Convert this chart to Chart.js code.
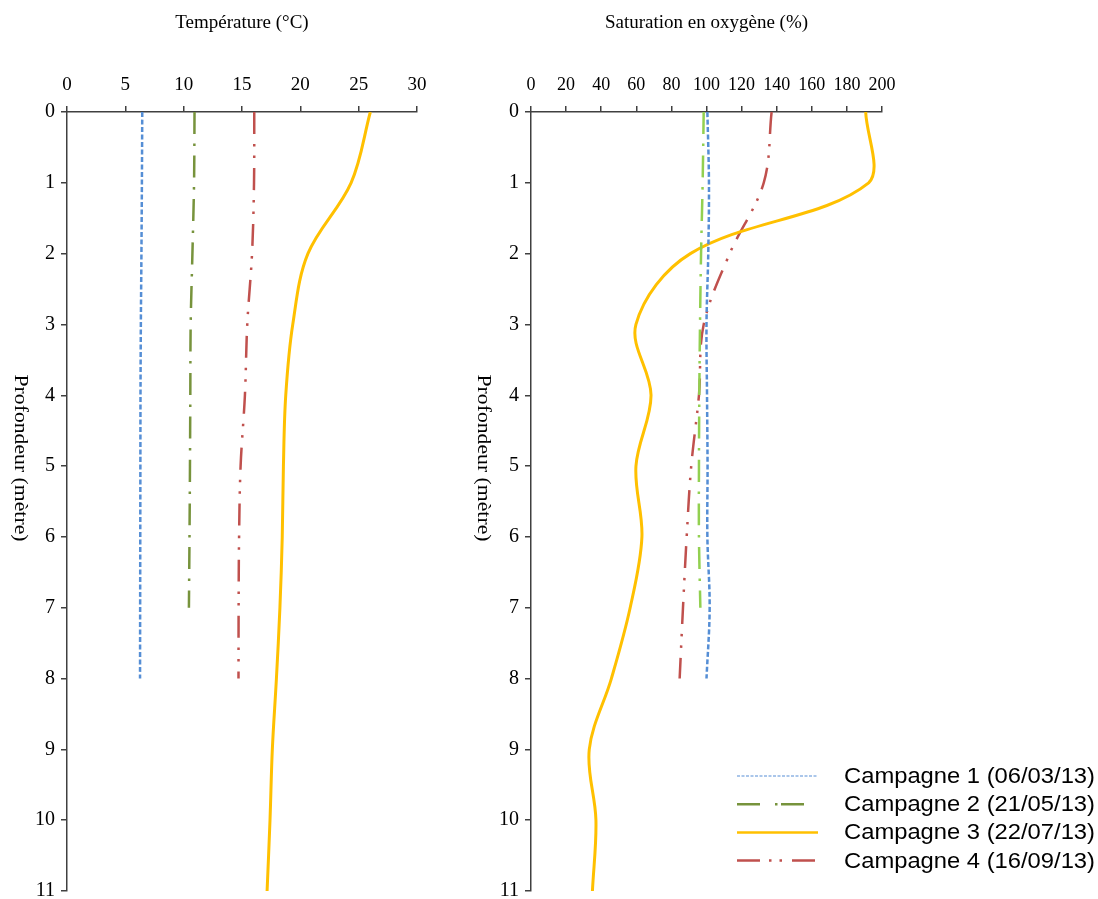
<!DOCTYPE html>
<html>
<head>
<meta charset="utf-8">
<script src="https://cdn.jsdelivr.net/npm/chart.js@4.4.1/dist/chart.umd.min.js"></script>
<style>
  html, body { margin: 0; padding: 0; background: #fff; overflow: hidden; }
  #wrap { position: relative; width: 1098px; height: 899px; overflow: hidden; }
  #tempChart { position: absolute; left: 0; top: 0; }
  #oxyChart { position: absolute; left: 450px; top: 0; }
</style>
</head>
<body>
<div id="wrap">
  <canvas id="tempChart" width="450" height="909"></canvas>
  <canvas id="oxyChart" width="648" height="909"></canvas>
</div>
<script>
// depths (m)
const depth8 = [0, 1, 2, 3, 4, 5, 6, 7, 8]
const depth7 = [0, 1, 2, 3, 4, 5, 6, 7]
const depth11 = [0, 1, 2, 3, 4, 5, 6, 7, 8, 9, 10, 11]

const campaignLabels = ['Campagne 1 (06/03/13)', 'Campagne 2 (21/05/13)', 'Campagne 3 (22/07/13)', 'Campagne 4 (16/09/13)']

// temperature (°C)
const temp1 = [6.45, 6.42, 6.38, 6.33, 6.3, 6.29, 6.28, 6.27, 6.26]
const temp2 = [10.93, 10.89, 10.75, 10.6, 10.57, 10.54, 10.5, 10.45]
const temp3 = [26.0, 24.35, 20.65, 19.35, 18.75, 18.55, 18.45, 18.25, 17.95, 17.6, 17.4, 17.15]
const temp4 = [16.05, 16.03, 15.86, 15.45, 15.25, 14.88, 14.75, 14.71, 14.7]

// oxygen saturation (%)
const oxy1 = [100.5, 101.4, 101, 100, 100.3, 100.6, 100.5, 101.8, 100]
const oxy2 = [98.4, 97.8, 96.9, 96.3, 95.9, 95.7, 95.7, 96.5]
const oxy3 = [190.7, 192.4, 90.8, 59.8, 68.4, 59.8, 63.2, 56.5, 45.8, 33.2, 37, 35]
const oxy4 = [137.1, 132.6, 113.2, 98.4, 95.7, 91.3, 88.7, 86.6, 84.7]

const tempTicks = { min: 0, max: 30, step: 5 }
const oxyTicks = { min: 0, max: 200, step: 20 }
const depthTicks = { min: 0, max: 11, step: 1 }

const serif = "'Liberation Serif', 'Times New Roman', serif"
const sans = "'Liberation Sans', Arial, sans-serif"
const axisColor = '#404040'

const styles = [
    { color: '#558ED5', dash: [5, 2.5], width: 2.5 },
    { color: '#77933C', dash: [22, 9.5, 2.5, 9.5], width: 2.5 },
    { color: '#FFC000', dash: [], width: 3 },
    { color: '#C0504D', dash: [22, 10, 2.5, 9, 2.5, 10], width: 2.5 }
]

const toPoints = (values, depths) => values.map((v, i) => ({ x: v, y: depths[i] }))

const makeDataset = (i, values, depths, color) => ({
    label: campaignLabels[i],
    data: toPoints(values, depths),
    showLine: true,
    borderColor: color || styles[i].color,
    borderWidth: styles[i].width,
    borderDash: styles[i].dash,
    borderCapStyle: 'butt',
    tension: 0.35,
    pointRadius: 0,
    fill: false
})

// rotated depth title, reading top to bottom
const depthTitle = {
    id: 'depthTitle',
    afterDraw(chart, args, opts) {
        const ctx = chart.ctx
        ctx.save()
        ctx.font = '18px ' + serif
        ctx.fillStyle = '#000'
        ctx.textAlign = 'center'
        ctx.textBaseline = 'middle'
        const text = 'Profondeur (mètre)'
        const w = ctx.measureText(text).width
        ctx.translate(opts.x, 458)
        ctx.rotate(Math.PI / 2)
        ctx.scale(167 / w, 1)
        ctx.fillText(text, 0, 0)
        ctx.restore()
    }
}

// legend drawn inside the oxygen panel, bottom right
const sampleStyles = [
    { color: '#8EB4E3', dash: [3, 1.5], width: 1.5 },
    { color: '#77933C', dash: [23, 15, 2.5, 3.5], width: 2.5 },
    { color: '#FFC000', dash: [], width: 2.5 },
    { color: '#C0504D', dash: [23, 9, 2.5, 8, 2.5, 10], width: 2.5 }
]
const cornerLegend = {
    id: 'cornerLegend',
    afterDraw(chart) {
        const ctx = chart.ctx
        const x0 = 287, x1 = 368, tx = 394, y0 = 776, dy = 28.2
        ctx.save()
        ctx.font = '21.5px ' + sans
        ctx.textBaseline = 'middle'
        ctx.fillStyle = '#000'
        campaignLabels.forEach((label, i) => {
            const y = y0 + i * dy
            const s = sampleStyles[i]
            ctx.beginPath()
            ctx.setLineDash(s.dash)
            ctx.lineCap = 'butt'
            ctx.strokeStyle = s.color
            ctx.lineWidth = s.width
            ctx.moveTo(x0, y)
            ctx.lineTo(x1, y)
            ctx.stroke()
            ctx.setLineDash([])
            const w = ctx.measureText(label).width
            ctx.save()
            ctx.translate(tx, y + 1)
            ctx.scale(251 / w, 1)
            ctx.fillText(label, 0, 0)
            ctx.restore()
        })
        ctx.restore()
    }
}

const makeOptions = (xt, title, yWidth, padRight, tickSize) => ({
    responsive: false,
    devicePixelRatio: 1,
    animation: false,
    layout: { padding: { left: 0, top: 0, right: padRight, bottom: 0 } },
    plugins: {
        legend: { display: false },
        tooltip: { enabled: false },
        depthTitle: { x: yWidth === 67 ? 20 : 33 }
    },
    scales: {
        x: {
            type: 'linear',
            position: 'top',
            min: xt.min,
            max: xt.max,
            afterFit: (scale) => { scale.height = 112 },
            ticks: {
                stepSize: xt.step,
                autoSkip: false,
                maxRotation: 0,
                padding: 10,
                color: '#000',
                font: { family: serif, size: tickSize }
            },
            grid: { drawOnChartArea: false, drawTicks: true, tickLength: 6, color: axisColor, lineWidth: 1.5 },
            border: { display: true, color: axisColor, width: 1.5 },
            title: { display: true, text: title, color: '#000', font: { family: serif, size: 19 }, padding: { top: 12, bottom: 0 } }
        },
        y: {
            type: 'linear',
            reverse: true,
            min: depthTicks.min,
            max: depthTicks.max,
            afterFit: (scale) => { scale.width = yWidth },
            ticks: {
                stepSize: depthTicks.step,
                autoSkip: false,
                padding: 6,
                color: '#000',
                font: { family: serif, size: 20 }
            },
            grid: { drawOnChartArea: false, drawTicks: true, tickLength: 6, color: axisColor, lineWidth: 1.5 },
            border: { display: true, color: axisColor, width: 1.5 }
        }
    }
})

new Chart(document.getElementById('tempChart').getContext('2d'), {
    type: 'scatter',
    data: {
        datasets: [
            makeDataset(0, temp1, depth8),
            makeDataset(1, temp2, depth7),
            makeDataset(2, temp3, depth11),
            makeDataset(3, temp4, depth8)
        ]
    },
    options: makeOptions(tempTicks, 'Température (°C)', 67, 33, 19),
    plugins: [depthTitle]
})

new Chart(document.getElementById('oxyChart').getContext('2d'), {
    type: 'scatter',
    data: {
        datasets: [
            makeDataset(0, oxy1, depth8),
            makeDataset(1, oxy2, depth7, '#92D050'),
            makeDataset(2, oxy3, depth11),
            makeDataset(3, oxy4, depth8)
        ]
    },
    options: makeOptions(oxyTicks, 'Saturation en oxygène (%)', 81, 216, 18),
    plugins: [depthTitle, cornerLegend]
})
</script>
</body>
</html>
